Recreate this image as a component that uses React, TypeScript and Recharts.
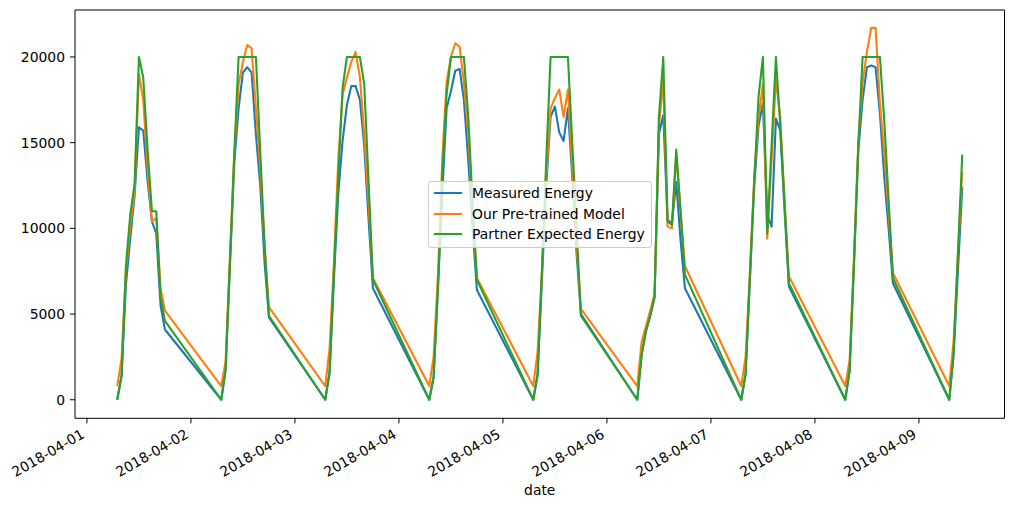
import React from 'react';
import { LineChart, Line, XAxis, YAxis, ReferenceArea, Legend } from 'recharts';

// Calendar days shown on the x axis (one tick per day at midnight)
const days = [
  '2018-04-01', '2018-04-02', '2018-04-03', '2018-04-04', '2018-04-05',
  '2018-04-06', '2018-04-07', '2018-04-08', '2018-04-09',
];

// Hours of the day that were sampled (daylight only)
const sampleHours = [7, 8, 9, 10, 11, 12, 13, 14, 15, 16, 17, 18];

// One row per day, one value per sampled hour
const measuredEnergy: number[][] = [
  [0, 1400, 6700, 9400, 11900, 15900, 15700, 12800, 10400, 9700, 5500, 4100],
  [0, 1800, 7800, 13800, 17000, 19100, 19400, 19100, 15500, 12500, 8000, 4800],
  [0, 1600, 7000, 12000, 15100, 17200, 18300, 18300, 17500, 14800, 10500, 6500],
  [0, 1300, 6500, 12000, 17000, 18000, 19200, 19300, 17500, 14000, 10000, 6400],
  [0, 1500, 7000, 12500, 16500, 17100, 15600, 15100, 17000, 13000, 8500, 5000],
  [0, 2600, 4000, 4900, 6000, 15500, 16600, 10500, 10300, 12700, 9300, 6500],
  [0, 1500, 7000, 12500, 16000, 17300, 10800, 10100, 16400, 15700, 11000, 6600],
  [0, 1700, 7800, 14500, 17500, 19400, 19500, 19400, 16700, 13000, 10000, 6800],
  [0, 2600, 7500, 12400],
];

const pretrainedModel: number[][] = [
  [800, 2400, 7500, 10100, 12100, 19000, 17500, 13500, 10400, 10600, 6500, 5200],
  [800, 2200, 8300, 14300, 18400, 19700, 20700, 20500, 17000, 13500, 9000, 5400],
  [800, 3000, 8000, 14000, 17800, 18800, 19700, 20300, 18800, 15500, 11500, 7100],
  [800, 2500, 7200, 14000, 18500, 20000, 20800, 20600, 18500, 15500, 11000, 7100],
  [800, 2800, 7500, 13000, 17000, 17600, 18100, 16500, 18100, 13500, 9000, 5300],
  [800, 3350, 4300, 5200, 6200, 16000, 18600, 10100, 10000, 14300, 11000, 7800],
  [800, 2500, 7500, 13000, 16500, 18400, 9400, 14000, 18700, 16500, 11500, 7200],
  [800, 2300, 8200, 15000, 18500, 20300, 21700, 21700, 17300, 14400, 10900, 7400],
  [800, 3400, 8500, 13300],
];

const partnerExpected: number[][] = [
  [0, 1400, 7800, 10800, 12600, 20000, 18800, 14600, 11000, 11000, 6000, 4600],
  [0, 1700, 8000, 14300, 20000, 20000, 20000, 20000, 20000, 14500, 9000, 4900],
  [0, 1600, 7500, 12900, 18200, 20000, 20000, 20000, 20000, 18400, 12700, 7000],
  [0, 1300, 6500, 13000, 17800, 20000, 20000, 20000, 20000, 16500, 11500, 7000],
  [0, 1400, 7500, 14000, 20000, 20000, 20000, 20000, 20000, 15000, 10000, 4900],
  [0, 2600, 4000, 4900, 6000, 16500, 20000, 10400, 10200, 14600, 11000, 7300],
  [0, 1500, 7200, 12800, 17700, 20000, 9700, 14850, 20000, 16000, 11500, 6800],
  [0, 1700, 7900, 14700, 20000, 20000, 20000, 20000, 20000, 16300, 11700, 7100],
  [0, 2700, 8500, 14300],
];

const seriesNames = ['Measured Energy', 'Our Pre-trained Model', 'Partner Expected Energy'];
const seriesKeys = ['measured', 'model', 'partner'];
const seriesColors = ['#1f77b4', '#ff7f0e', '#2ca02c'];

const yTicks = [0, 5000, 10000, 15000, 20000];
const xTicks = days.map((_, i) => i * 24);

// Hours since 2018-04-01 00:00 for every sample
const rows: { t: number; measured: number; model: number; partner: number }[] = [];
measuredEnergy.forEach((dayVals, d) => {
  dayVals.forEach((v, i) => {
    rows.push({
      t: d * 24 + sampleHours[i],
      measured: v,
      model: pretrainedModel[d][i],
      partner: partnerExpected[d][i],
    });
  });
});

const FONT = 'DejaVu Sans, sans-serif';
const X_DOMAIN: [number, number] = [-2.75, 211.75];
const Y_DOMAIN: [number, number] = [-1083, 22741];

const DateTick = (props: any) => {
  const { x, y, payload } = props;
  return (
    <g transform={`translate(${x - 6.5},${y})`}>
      <text
        x={0}
        y={0}
        dy={10}
        textAnchor="end"
        transform="rotate(-30)"
        fill="#000"
        fontSize={13.9}
        fontFamily={FONT}
      >
        {days[Math.round(payload.value / 24)]}
      </text>
    </g>
  );
};

const LegendBox = () => (
  <div
    style={{
      width: 222,
      height: 64,
      border: '1px solid #cccccc',
      borderRadius: 3,
      background: 'rgba(255,255,255,0.8)',
      paddingTop: 1,
      boxSizing: 'content-box',
      fontFamily: FONT,
      fontSize: 13.9,
      color: '#000',
    }}
  >
    {seriesNames.map((name, i) => (
      <div key={name} style={{ height: 20.5, display: 'flex', alignItems: 'center' }}>
        <svg width={43} height={20} style={{ flex: 'none' }}>
          <line x1={5} x2={33} y1={10} y2={10} stroke={seriesColors[i]} strokeWidth={2.1} />
        </svg>
        <span style={{ whiteSpace: 'nowrap' }}>{name}</span>
      </div>
    ))}
  </div>
);

export default function App() {
  return (
    <div style={{ position: 'absolute', left: 0, top: 0, background: '#fff' }}>
      <LineChart
        width={1014}
        height={509}
        data={rows}
        margin={{ top: 10, right: 9.5, bottom: 10.7, left: 15 }}
      >
        <XAxis
          dataKey="t"
          type="number"
          domain={X_DOMAIN}
          ticks={xTicks}
          allowDataOverflow
          height={80}
          tickSize={5}
          tickMargin={5}
          tick={<DateTick />}
          axisLine={false}
          tickLine={{ stroke: '#000', strokeWidth: 1 }}
          label={{ value: 'date', position: 'insideBottom', offset: 3, fill: '#000', fontSize: 13.9, fontFamily: FONT }}
        />
        <YAxis
          type="number"
          domain={Y_DOMAIN}
          ticks={yTicks}
          allowDataOverflow
          width={60}
          tickSize={5}
          tickMargin={5}
          axisLine={false}
          tickLine={{ stroke: '#000', strokeWidth: 1 }}
          tick={{ fill: '#000', fontSize: 13.9, fontFamily: FONT }}
        />
        {seriesKeys.map((k, i) => (
          <Line
            key={k}
            dataKey={k}
            name={seriesNames[i]}
            type="linear"
            stroke={seriesColors[i]}
            strokeWidth={2.1}
            strokeLinejoin="round"
            dot={false}
            isAnimationActive={false}
          />
        ))}
        <ReferenceArea
          x1={X_DOMAIN[0]}
          x2={X_DOMAIN[1]}
          y1={Y_DOMAIN[0]}
          y2={Y_DOMAIN[1]}
          fill="none"
          stroke="#000"
          strokeWidth={1}
          ifOverflow="visible"
        />
        <Legend
          layout="vertical"
          align="center"
          verticalAlign="middle"
          content={<LegendBox />}
          wrapperStyle={{ left: 428, top: 181, bottom: 'auto', width: 224, height: 66 }}
        />
      </LineChart>
    </div>
  );
}
